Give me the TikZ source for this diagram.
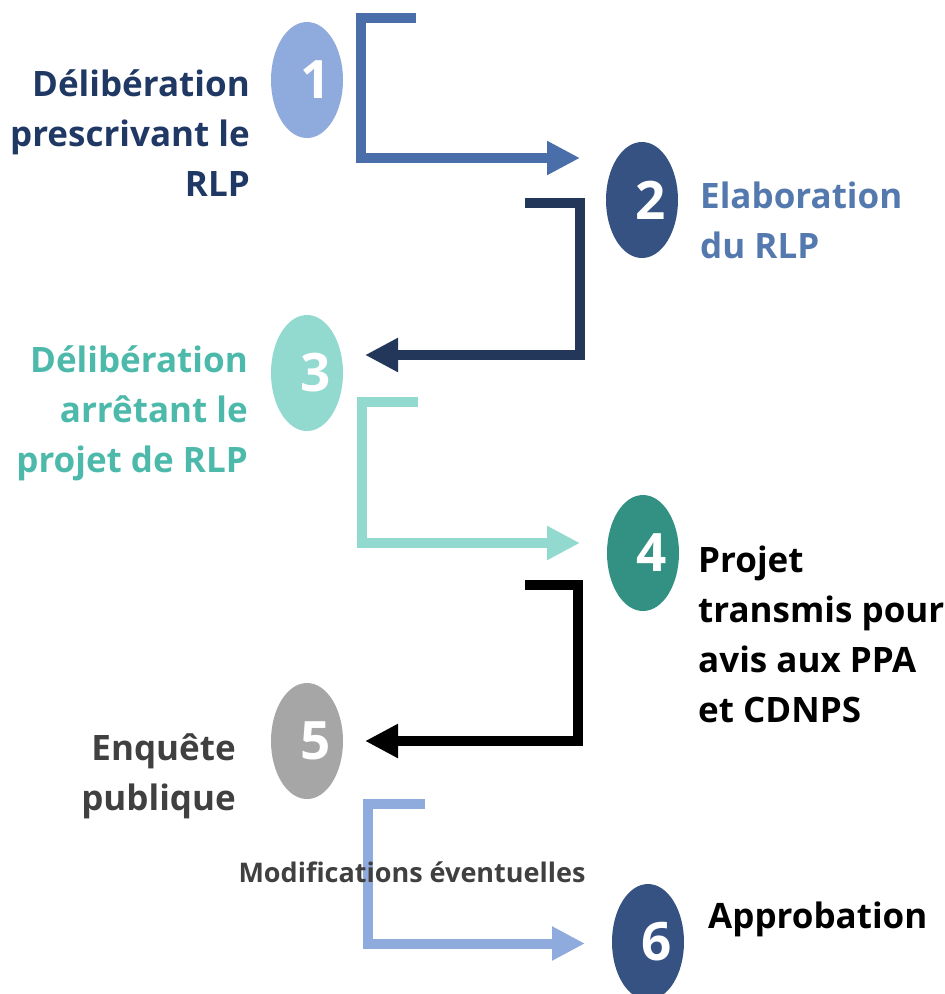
\documentclass[tikz,border=0pt]{standalone}
\usepackage{fontspec}
\setmainfont{Open Sans}
\usetikzlibrary{arrows.meta,shapes.geometric}
\definecolor{cnavy}{HTML}{203864}
\definecolor{cblue}{HTML}{4A6EA9}
\definecolor{cdark}{HTML}{355282}
\definecolor{cmidblue}{HTML}{5479AE}
\definecolor{cdeep}{HTML}{22375A}
\definecolor{cmint}{HTML}{92DAD0}
\definecolor{cteal}{HTML}{4CB9AB}
\definecolor{cgreen}{HTML}{339183}
\definecolor{cgrey}{HTML}{A6A6A6}
\definecolor{ctxtgrey}{HTML}{404040}
\definecolor{clight}{HTML}{8FAADC}
\begin{document}
\begin{tikzpicture}[x=1pt,y=-1pt,
  numshape/.style={ellipse, minimum width=72pt, minimum height=116pt, inner sep=0pt,
    text=white, font=\fontsize{53}{53}\selectfont\bfseries},
  flow/.style={line width=10pt, line join=miter, line cap=butt,
    -{Triangle[length=33pt,width=32pt]}},
  txt/.style={inner sep=0pt, font=\fontsize{35}{50}\selectfont\bfseries},
  small/.style={inner sep=0pt, font=\fontsize{27}{30}\selectfont\bfseries, text=ctxtgrey}]
\useasboundingbox (0,0) rectangle (945,994);

% circles
\node[numshape, fill=clight]  (n1) at (307,80)  {\hspace*{18pt}\raisebox{-3pt}{1}};
\node[numshape, fill=cdark]   (n2) at (642,200) {\hspace*{18pt}\raisebox{-3pt}{2}};
\node[numshape, fill=cmint]   (n3) at (307,373) {\hspace*{18pt}\raisebox{-3pt}{3}};
\node[numshape, fill=cgreen]  (n4) at (643,553) {\hspace*{18pt}\raisebox{-3pt}{4}};
\node[numshape, fill=cgrey]   (n5) at (307,741) {\hspace*{18pt}\raisebox{-3pt}{5}};
\node[numshape, fill=cdark]   (n6) at (648,942) {\hspace*{18pt}\raisebox{-10pt}{6}};

% texts
\node[txt, text=cnavy, align=right, anchor=north east] (t1) at (250,69)
  {Délibération\\prescrivant le\\RLP};
\node[txt, text=cmidblue, align=left, anchor=north west] (t2) at (700,182)
  {Elaboration\\du RLP};
\node[txt, text=cteal, align=right, anchor=north east] (t3) at (248,345)
  {Délibération\\arrêtant le\\projet de RLP};
\node[txt, text=black, align=left, anchor=north west] (t4) at (698,546)
  {Projet\\transmis pour\\avis aux PPA\\et CDNPS};
\node[txt, text=ctxtgrey, align=right, anchor=north east] (t5) at (236,733)
  {Enquête\\publique};
\node[txt, text=black, anchor=north west] (t6) at (708,902) {Approbation};

% connectors
\coordinate (s1) at (416,17.5);   \coordinate (e1) at (580,158);
\coordinate (s2) at (525,203);    \coordinate (e2) at (365,355);
\coordinate (s3) at (418,402);    \coordinate (e3) at (580,543);
\coordinate (s4) at (525,585);    \coordinate (e4) at (365,741);
\coordinate (s5) at (425,803.5);  \coordinate (e5) at (585,943.5);

\draw[flow, cblue]  (s1) -- ++(-55.5,0) |- (e1);
\draw[flow, cdeep]  (s2) -- ++(55,0)    |- (e2);
\draw[flow, cmint]  (s3) -- ++(-56,0)   |- (e3);
\draw[flow, black]  (s4) -- ++(53,0)    |- (e4);
\draw[flow, clight] (s5) -- ++(-57,0)   |- (e5);

\node[small] (m) at (412,872) {Modifications éventuelles};
\end{tikzpicture}
\end{document}
